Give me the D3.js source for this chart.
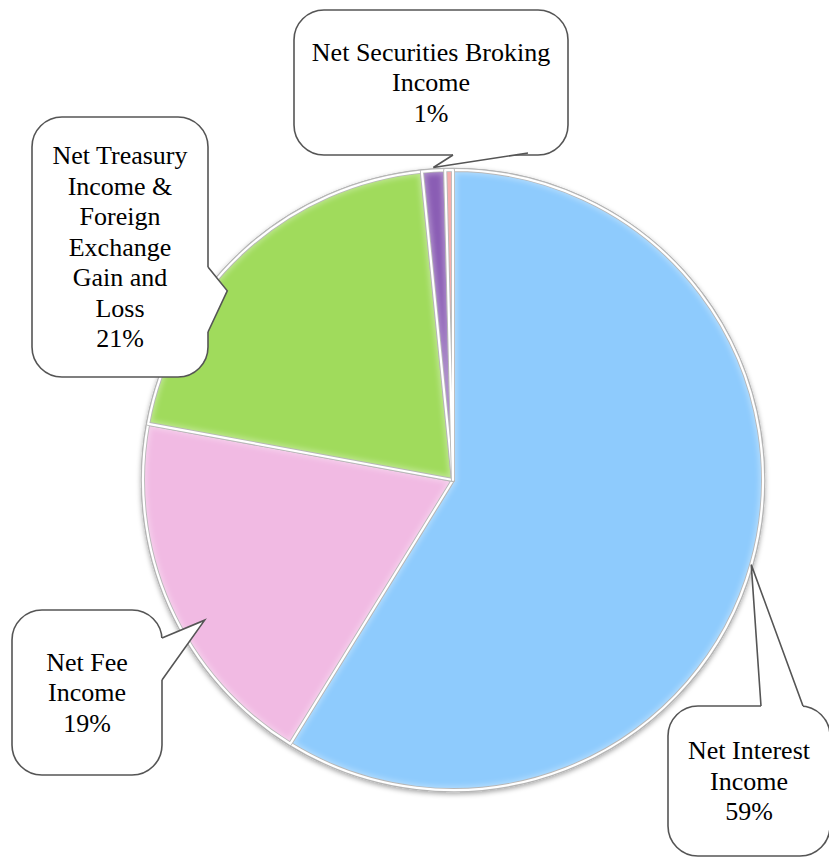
<!DOCTYPE html>
<html>
<head>
<meta charset="utf-8">
<script src="https://cdn.jsdelivr.net/npm/d3@7"></script>
<style>
  html, body { margin: 0; padding: 0; background: #ffffff; }
  svg { display: block; }
</style>
</head>
<body>
<svg id="chart" width="829" height="859"></svg>
<script>
// ---- data ----
const categories = ["Net Interest Income", "Net Fee Income", "Net Treasury Income & Foreign Exchange Gain and Loss", "Net Securities Broking Income", "Other"];
const values = [58.8, 19.1, 20.5, 1.2, 0.4];
const percentLabels = ["59%", "19%", "21%", "1%", ""];
const labelLines = [
  ["Net Interest", "Income"],
  ["Net Fee", "Income"],
  ["Net Treasury", "Income &", "Foreign", "Exchange", "Gain and", "Loss"],
  ["Net Securities Broking", "Income"],
  []
];
const colors = ["#8ecbfd", "#f1bae3", "#a0db5c", "#8a5db4", "#f08a8a"];

// ---- layout (positions / styles) ----
const W = 829, H = 859;
const cx = 453, cy = 480, R = 310;
const callouts = [
  { i: 0, box: [668, 706, 162, 150], side: "top", base: [761, 803], t: 0.5, rf: 1.0 },
  { i: 1, box: [12, 610, 150, 165], side: "right", base: [638, 680], t: 0.42, rf: 0.92 },
  { i: 2, box: [32, 117, 176, 260], side: "right", base: [267, 332], t: 0.4, rf: 0.95 },
  { i: 3, box: [294, 10, 274, 145], side: "bottom", base: [453, 528], t: 0.5, rf: 1.01 }
];
const fontSize = 26, lineH = 30.5, cornerR = 30;

const svg = d3.select("#chart");
const defs = svg.append("defs");
const sh = defs.append("filter").attr("id", "shadow").attr("x", "-10%").attr("y", "-10%").attr("width", "120%").attr("height", "120%");
sh.append("feDropShadow").attr("dx", 0).attr("dy", 2).attr("stdDeviation", 2.5).attr("flood-color", "#000").attr("flood-opacity", 0.35);
const blur = defs.append("filter").attr("id", "blur");
blur.append("feGaussianBlur").attr("stdDeviation", 2.5);

const pie = d3.pie().sort(null).value(d => d)(values);
const arc = d3.arc().innerRadius(0).outerRadius(R);

const g = svg.append("g").attr("transform", `translate(${cx},${cy})`);

// outer ring / shadow
g.append("circle").attr("r", R + 1).attr("fill", "#ffffff").attr("stroke", "#a8a8a8").attr("stroke-width", 2.5).attr("filter", "url(#shadow)");

pie.forEach((d, k) => {
  defs.append("clipPath").attr("id", "clip" + k).append("path").attr("d", arc(d));
});

const slices = g.selectAll("g.slice").data(pie).join("g").attr("class", "slice");
slices.append("path").attr("d", arc).attr("fill", (d, k) => colors[k]);
// bevel highlight
slices.append("path").attr("d", arc)
  .attr("fill", "none").attr("stroke", "#ffffff").attr("stroke-opacity", 0.3)
  .attr("stroke-width", 8).attr("filter", "url(#blur)")
  .attr("clip-path", (d, k) => `url(#clip${k})`);
// separators: grey hairline + white gap
slices.append("path").attr("d", arc).attr("fill", "none")
  .attr("stroke", "#b8b8b8").attr("stroke-width", 4).attr("stroke-linejoin", "round");
slices.append("path").attr("d", arc).attr("fill", "none")
  .attr("stroke", "#ffffff").attr("stroke-width", 2.2).attr("stroke-linejoin", "round");

// ---- callouts ----
function roundedRect(x, y, w, h, r) {
  return `M${x + r},${y}H${x + w - r}A${r},${r} 0 0 1 ${x + w},${y + r}V${y + h - r}A${r},${r} 0 0 1 ${x + w - r},${y + h}H${x + r}A${r},${r} 0 0 1 ${x},${y + h - r}V${y + r}A${r},${r} 0 0 1 ${x + r},${y}Z`;
}

callouts.forEach(c => {
  const d = pie[c.i];
  const a = d.startAngle + c.t * (d.endAngle - d.startAngle);
  const tip = [cx + R * c.rf * Math.sin(a), cy - R * c.rf * Math.cos(a)];
  const [x, y, w, h] = c.box;
  let b1, b2, in1, in2;
  if (c.side === "top") { b1 = [c.base[0], y]; b2 = [c.base[1], y]; in1 = [c.base[0], y + 2]; in2 = [c.base[1], y + 2]; }
  if (c.side === "bottom") { b1 = [c.base[0], y + h]; b2 = [c.base[1], y + h - 2]; in1 = [c.base[0], y + h - 3]; in2 = [c.base[1], y + h - 4]; }
  if (c.side === "right") { b1 = [x + w, c.base[0]]; b2 = [x + w, c.base[1]]; in1 = [x + w - 2, c.base[0]]; in2 = [x + w - 2, c.base[1]]; }
  const cg = svg.append("g");
  cg.append("path").attr("d", roundedRect(x, y, w, h, cornerR))
    .attr("fill", "#ffffff").attr("stroke", "#555555").attr("stroke-width", 1.6);
  cg.append("path").attr("d", `M${in1}L${b1}L${tip}L${b2}L${in2}Z`).attr("fill", "#ffffff").attr("stroke", "none");
  cg.append("path").attr("d", `M${b1}L${tip}L${b2}`).attr("fill", "none")
    .attr("stroke", "#555555").attr("stroke-width", 1.6).attr("stroke-linejoin", "miter");
  const lines = labelLines[c.i].concat([percentLabels[c.i]]);
  const tx = x + w / 2;
  const totalH = (lines.length - 1) * lineH;
  const firstBase = y + h / 2 - totalH / 2 + fontSize * 0.33;
  lines.forEach((ln, j) => {
    cg.append("text").attr("text-anchor", "middle")
      .attr("x", tx).attr("y", firstBase + j * lineH)
      .style("font-family", '"Liberation Serif"')
      .style("font-size", "26px")
      .attr("fill", "#000")
      .text(ln);
  });
});
</script>
</body>
</html>
